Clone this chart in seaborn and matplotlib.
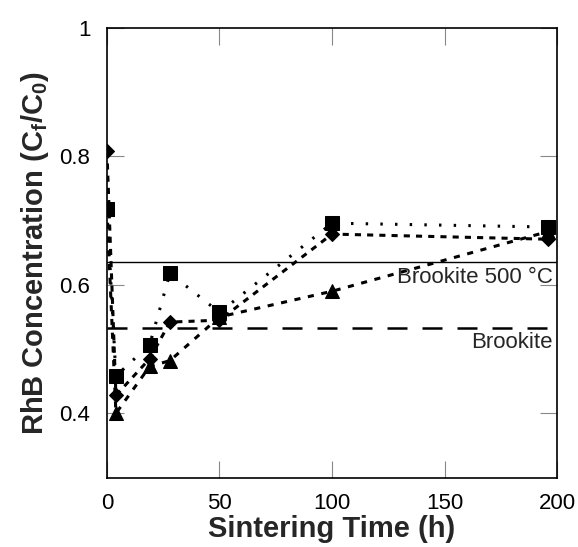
import matplotlib
matplotlib.use("Agg")
import matplotlib.pyplot as plt
import seaborn as sns
import pandas as pd

time_h = [0, 4, 19, 28, 50, 100, 196]
square_vals = [0.718, 0.458, 0.507, 0.618, 0.557, 0.696, 0.690]
diamond_vals = [0.808, 0.428, 0.485, 0.542, 0.545, 0.679, 0.671]
triangle_time = [0, 4, 19, 28, 50, 100, 196]
triangle_vals = [0.718, 0.400, 0.473, 0.482, 0.550, 0.590, 0.683]
brookite500 = 0.635
brookite = 0.533

sns.set_style("ticks")
plt.rcParams['font.family'] = ['Liberation Sans', 'DejaVu Sans']
plt.rcParams['mathtext.fontset'] = 'custom'
plt.rcParams['mathtext.rm'] = 'Liberation Sans:bold'
plt.rcParams['mathtext.bf'] = 'Liberation Sans:bold'

fig = plt.figure(figsize=(5.78, 5.47), dpi=100)
ax = fig.add_axes([0.185, 0.127, 0.779, 0.822])

df_sq = pd.DataFrame({"t": time_h, "c": square_vals})
df_di = pd.DataFrame({"t": time_h, "c": diamond_vals})
df_tr = pd.DataFrame({"t": triangle_time, "c": triangle_vals})

sns.lineplot(data=df_tr, x="t", y="c", ax=ax, color="black", lw=2.2,
             linestyle=(0, (2, 2.5)), marker="^", markersize=10, markeredgecolor="black")
sns.lineplot(data=df_di, x="t", y="c", ax=ax, color="black", lw=2.2,
             linestyle=(0, (2, 2)), marker="D", markersize=7, markeredgecolor="black")
sns.lineplot(data=df_sq, x="t", y="c", ax=ax, color="black", lw=2.2,
             linestyle=(0, (0.8, 4)), marker="s", markersize=10, markeredgecolor="black")

ax.axhline(brookite500, color="black", lw=1.0)
ax.axhline(brookite, color="black", lw=1.8, linestyle=(0, (8, 6)))
ax.text(198, brookite500 - 0.007, "Brookite 500 °C", ha="right", va="top", fontsize=16)
ax.text(198, brookite - 0.007, "Brookite", ha="right", va="top", fontsize=16)

ax.set_xlim(0, 200)
ax.set_ylim(0.3, 1.0)
ax.set_xticks([0, 50, 100, 150, 200])
ax.set_yticks([0.4, 0.6, 0.8, 1.0])
ax.set_yticklabels(["0.4", "0.6", "0.8", "1"])
ax.tick_params(direction="in", length=12, width=0.8, top=True, right=True,
               labelsize=16, pad=12, color="#888888", labelcolor="black")
ax.tick_params(axis="x", pad=11)
for s in ax.spines.values():
    s.set_linewidth(1.2)
    s.set_color("black")

ax.set_xlabel("Sintering Time (h)", fontsize=21, fontweight="bold", labelpad=1)
ax.set_ylabel(r"RhB Concentration (C$_\mathregular{f}$/C$_\mathregular{0}$)",
              fontsize=21, fontweight="bold", labelpad=6)

fig.savefig("out.png", dpi=100)
